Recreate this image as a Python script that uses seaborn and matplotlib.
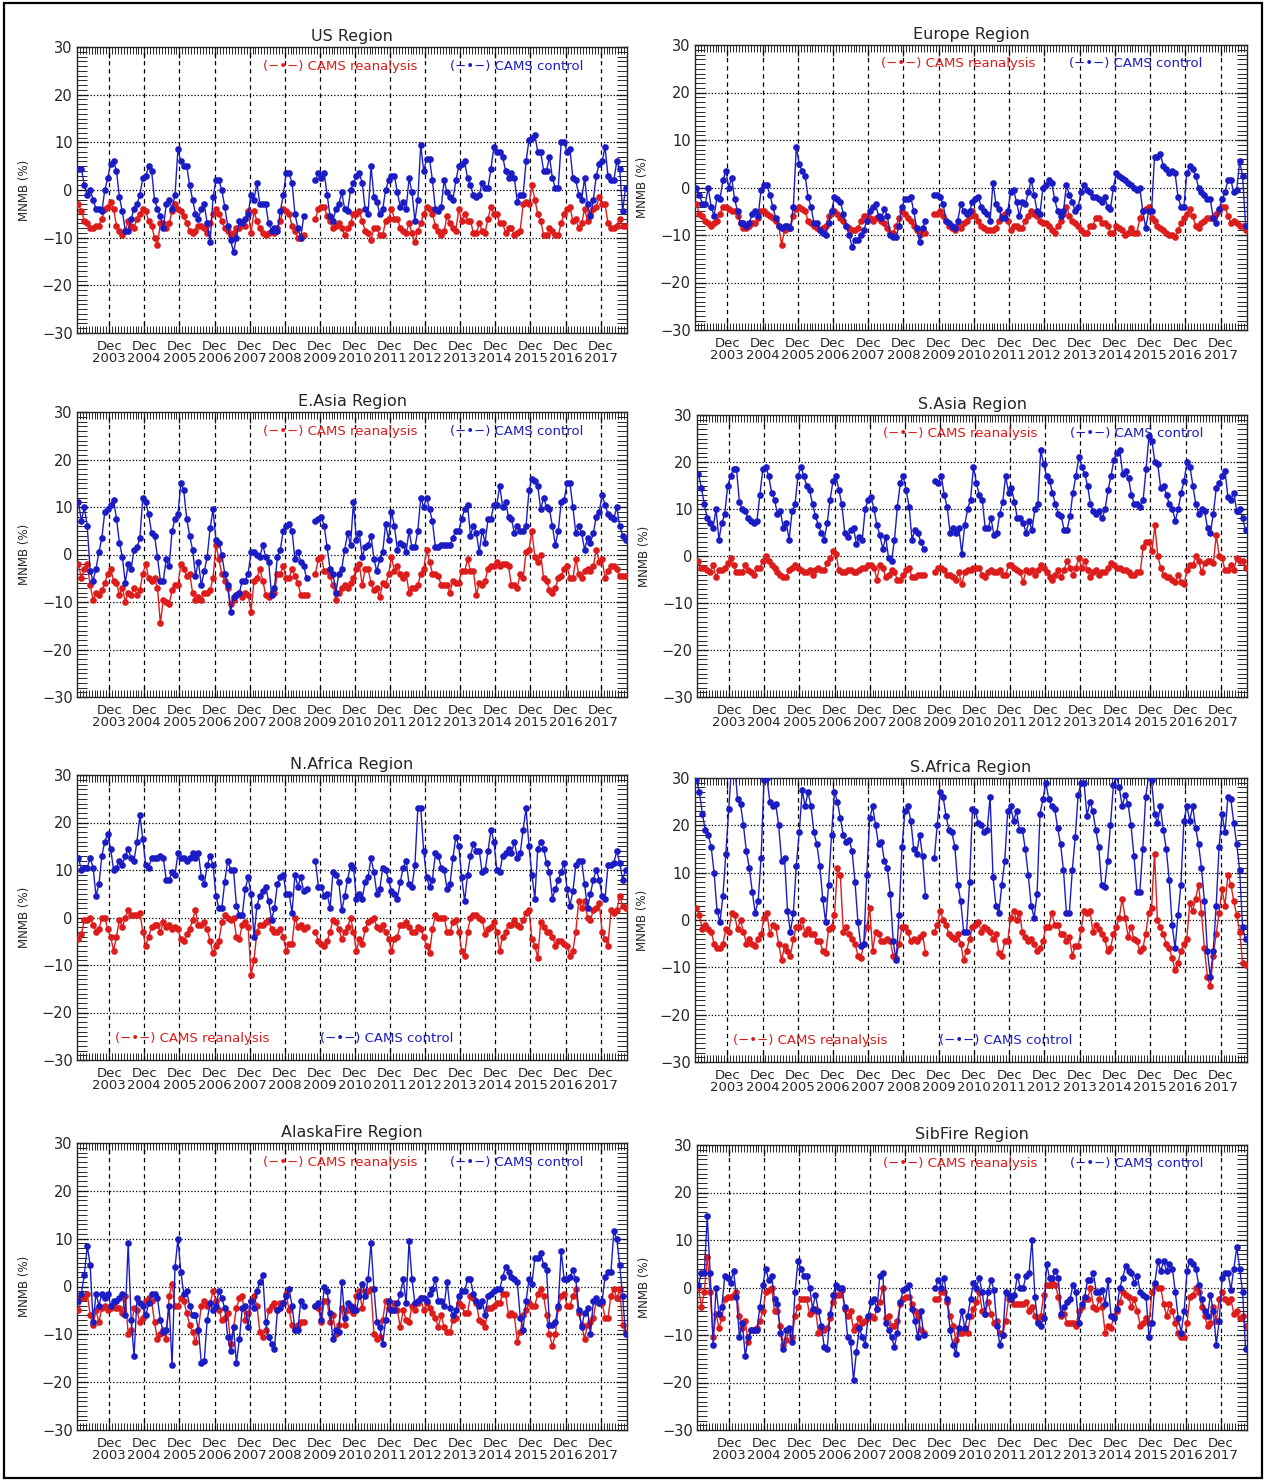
import numpy as np
import pandas as pd
import matplotlib
matplotlib.use("Agg")
import matplotlib.pyplot as plt
from matplotlib.patches import Rectangle
from matplotlib.ticker import MultipleLocator
import seaborn as sns

nan = np.nan

# Monthly MNMB (%) from Jan 2003 to Aug 2018, one row per year; nan = no data
us_rean = [
    -3, -4.5, -6.5, -7, -8, -8, -7.5, -7.5, -6, -4, -3.5, -2.5,
    -4, -7.5, -8.5, -9.5, -8.5, -6.5, -7.5, -8, -6, -5, -4, -4.5,
    -6.5, -7.5, -10, -11.5, -7, -7, -8, -7, -4.5, -3, -4, -4.5,
    -5.5, -7, -8.5, -9, -8.5, -7.5, -7.5, -8, -9, -7, -5, -4,
    -5, -6.5, -8, -8.5, -9.5, -9, -8, -8, -7, -7.5, -4.5, -9,
    -4.5, -6.5, -8, -9, -9.5, -9, -8.5, -9, -8, -6.5, -4, -4.5,
    -5, -7.5, -8.5, -10, -10, -9.5, nan, nan, nan, -6, -4, -3.5,
    -3.5, -5.5, -6.5, -8, -7.5, -7, -8, -9.5, -8, -7, -5, -5,
    -4.5, -6.5, -8.5, -9, -10.5, -8, -8, -9.5, -9.5, -6.5, -6, -4,
    -6, -6, -8, -8.5, -9, -7, -9, -11, -8.5, -7, -5, -3.5,
    -4, -5, -7.5, -8.5, -9.5, -8.5, -5.5, -7, -8, -8.5, -4, -6.5,
    -5, -6.5, -6.5, -9, -9, -7, -8.5, -9, -6, -3.5, -5, -5,
    -7, -7, -9, -8, -8, -9.5, -9, -8.5, -3, -2.5, -3, 1,
    -2, -5, -6.5, -9.5, -9.5, -8, -8.5, -9.5, -9.5, -7, -5, -4,
    -3.5, -6.5, -6, -8, -7, -4, -6.5, -5, -4, -3.5, -1.5, -3,
    -3, -7, -8, -8, -7.5, -6, -7.5, -7.5,
]
us_ctrl = [
    4.5, 4.5, 1, -1, 0, -2, -4, -4, -4.5, 0, 2.5, 5.5,
    6, 4, -1.5, -4.5, -8.5, -8.5, -6, -4, -3, -1, 2.5, 3,
    5, 4, -2, -4, -5.5, -8, -3, -2, -4, -1, 8.5, 6,
    5, 5, 1, -2, -5, -6, -4, -3, -7, -11, -1.5, 2,
    2, 0, -3.5, -7.5, -10.5, -13, -10, -6.5, -7, -6, -5, -1,
    -2, 1.5, -3, -3, -3, -7, -8.5, -8, -8.5, -4.5, -1, 3.5,
    3.5, 1.5, -5, -8, -10, -5.5, nan, nan, nan, 2, 3.5, 2.5,
    3.5, -1, -5.5, -6.5, -4, -3, -0.5, -4, -4.5, 0, 1.5, 3,
    3.5, 1.5, -4, -5, 5, -1.5, -2.5, -5, -4, 0, 2, 3,
    3, -0.5, -3.5, -2.5, -4, 2.5, -0.5, -6.5, -2, 9.5, 4, 6.5,
    6.5, 2, -4, -4.5, -3.5, 2, -0.5, -1.5, -2, 2, 5, 5.5,
    6, 2.5, 1, -1, -1.5, -1, 1.5, 0.5, 0.5, 4.5, 9, 8,
    8, 7, 4, 2.5, 3.5, 2.5, -2.5, -1, -1, 6, 10.5, 11,
    11.5, 8, 8, 4, 4, 7, 2.5, 0.5, 0.5, 10, 10, 8,
    8.5, 2.5, 2, -1, -2, 2.5, -3, -5.5, -2, 3, 5.5, 6,
    9, 3, 2, 2, 6, 4.5, -4.5, 0.5,
]
eu_rean = [
    -3.5, -5.5, -6, -7, -7.5, -8, -7.5, -7, -5.5, -4, -4, -4.5,
    -5, -5, -6, -7.5, -8.5, -8.5, -8, -7.5, -7.5, -6.5, -5, -5,
    -5.5, -6, -6.5, -7, -8, -12, -9, -8.5, -8.5, -6, -4.5, -4,
    -4.5, -5, -7, -7.5, -8, -8.5, -9, -8.5, -8, -6, -5, -5,
    -5.5, -6.5, -7, -8, -8.5, -9, -9, -8.5, -7, -6, -6, -6.5,
    -7, -6.5, -6.5, -7, -7.5, -8.5, -9.5, -9.5, -8, -6.5, -5, -5.5,
    -6.5, -7, -8, -9, -10, -9, -9.5, nan, nan, -5.5, -5.5, -5,
    -6, -7, -8, -8.5, -9, -8, -8.5, -7.5, -7, -6, -5, -6,
    -7, -8, -8.5, -9, -9, -9, -8.5, -7, -6, -5.5, -7, -9,
    -8, -8, -8.5, -8.5, -7, -6, -5, -5.5, -6, -7, -7.5, -7.5,
    -8, -9, -9.5, -8, -7, -5.5, -4, -6, -7, -7.5, -8, -9,
    -9.5, -9.5, -8, -8, -6.5, -6.5, -7.5, -7.5, -8, -9.5, -9.5, -8,
    -8.5, -9, -10, -9.5, -8.5, -9.5, -9.5, -6.5, -5, -4.5, -4, -6.5,
    -7, -8, -8.5, -9, -9.5, -10, -10, -10.5, -9, -7.5, -6.5, -5.5,
    -4.5, -6, -8, -8.5, -7.5, -7, -6.5, -6.5, -6.5, -5.5, -5, -4,
    -4, -6, -7.5, -7, -7.5, -8, -8, -9,
]
eu_ctrl = [
    0, -1.5, -3.5, -3.5, 0, -4, -6, -2, -2.5, 1.5, 3.5, 0,
    2, -2.5, -5, -7.5, -7.5, -8, -7.5, -5.5, -5, -6, -0.5, 0.5,
    0.5, -1.5, -4, -6.5, -8, -8.5, -8, -8, -8.5, -4, 8.5, 5,
    3.5, 2.5, -2, -4, -7.5, -7.5, -9, -9.5, -10, -7.5, -5, -2,
    -2.5, -3, -5.5, -8, -10, -12.5, -11, -11, -10, -9, -7, -5,
    -4, -3.5, -6, -6.5, -4.5, -6, -10, -10.5, -10.5, -8, -4, -2.5,
    -2.5, -2, -5, -8.5, -11.5, -8.5, -7, nan, nan, -1.5, -1.5, -2,
    -3.5, -7, -7.5, -8, -8.5, -7, -3.5, -5, -5.5, -5, -3, -2.5,
    -2, -4, -5, -5.5, -7, 1, -3.5, -4.5, -6.5, -6.5, -5, -1,
    -0.5, -3, -6, -3, -3.5, -1, 1.5, -1.5, -5, -5.5, 0, 0.5,
    1.5, 1, -2.5, -5, -6, -5, 0.5, -1.5, -3, -5, -4, -1,
    0.5, -0.5, -1, -2, -2, -2.5, -3, -2, -4, -4.5, 0, 3,
    2.5, 2, 1.5, 1, 0.5, 0, -0.5, 0, -5, -8.5, -5, -5,
    6.5, 6.5, 7, 4.5, 4, 3, 3.5, 3, -2, -4, -4, 3,
    4.5, 4, 2.5, 0, -1, -1.5, -2.5, -2.5, -6.5, -7.5, -4.5, -2.5,
    -1, 1.5, 1.5, -1, -0.5, 5.5, 2.5, -8,
]
ea_rean = [
    -2, -5, -3, -2, -6.5, -9.5, -8, -8.5, -7.5, -6, -4, -3,
    -5.5, -6, -8.5, -7, -10, -8, -8.5, -7, -8.5, -7.5, -4, -2,
    -5, -5.5, -5, -7, -14.5, -9.5, -10, -10.5, -7.5, -6.5, -6.5, -2,
    -3, -4.5, -4, -8, -9.5, -9, -9.5, -8, -8, -7.5, -5, 2,
    -1, -4, -5.5, -7, -10.5, -9.5, -8.5, -8, -9, -8, -8.5, -12,
    -5.5, -5, -3, -5.5, -8.5, -9, -8, -8, -4, -4, -2.5, -5,
    -5, -3, -4.5, -6, -8.5, -8.5, -8.5, nan, nan, -4, -1, -0.5,
    -3.5, -3.5, -4.5, -6.5, -9.5, -8, -7, -6.5, -7, -6, -5, -3,
    -2, -6.5, -3, -3, -6, -7.5, -7, -9, -6, -6.5, -4, -0.5,
    -3.5, -2.5, -4, -5, -4, -8, -7, -7, -6.5, -4, -3, 1,
    -1.5, -4, -4, -4.5, -6.5, -6.5, -6.5, -8, -5.5, -6, -6, -3.5,
    -3.5, -1, -3.5, -3.5, -8.5, -6, -6.5, -5.5, -3, -2.5, -2.5, -1.5,
    -2.5, -2, -2, -2.5, -6.5, -6.5, -7, -4, -5, 0.5, 1, 5,
    -0.5, -1.5, 0, -5, -5.5, -7.5, -8, -7, -5, -4.5, -3, -2.5,
    -5, -5, -1, -4, -5, -3.5, -3, -3.5, -2.5, 1, -1.5, -1,
    -5, -3.5, -2.5, -2.5, -3, -4.5, -4.5, -4.5,
]
ea_ctrl = [
    11, 7, 10, 6, -3.5, -5.5, -3, 0.5, 3.5, 9, 9.5, 10.5,
    11.5, 7.5, 2.5, -0.5, -6, -2, -3, 1, 1.5, 3.5, 12, 11,
    8.5, 4.5, 4, -0.5, -5.5, -5.5, -1, -2.5, 5, 7.5, 8.5, 15,
    13.5, 7.5, 4, 1, -4.5, -1.5, -6.5, -3.5, -0.5, 5.5, 9.5, 3,
    2.5, 0, -4, -6.5, -12, -9, -8.5, -8, -5.5, -5.5, -4, 0.5,
    0.5, 0, -0.5, 2, -0.5, -1.5, -8.5, -7, -0.5, 1, 5, 6,
    6.5, 5, -1, 0.5, -1.5, -2.5, -5, nan, nan, 7, 7.5, 8,
    6, 1.5, -3, -4, -8, -4, -3, 1, 4.5, 2, 11, 3,
    4.5, -0.5, 1.5, 2, 4, -1, -3.5, -1, 0.5, 6.5, 3, 9,
    6, 1, 2.5, 2, 0.5, 5, 1.5, 1.5, 5, 12, 10, 12,
    9.5, 7, 1.5, 1.5, 2, 2, 2, 2, 3.5, 5, 5, 7.5,
    9.5, 10.5, 4, 6, 4.5, 0.5, 5, 2.5, 7.5, 7.5, 10.5, 10.5,
    14.5, 10, 11, 8, 7.5, 4.5, 6, 5, 5, 6, 13.5, 16,
    15.5, 14.5, 9.5, 12, 10, 9.5, 6, 2, 5, 11, 11.5, 15,
    15, 10, 4.5, 6, 4.5, 1, 3.5, 2.5, 4.5, 8, 9, 12.5,
    10.5, 8.5, 8, 7.5, 10, 6, 4, 3,
]
sa_rean = [
    -1, -2.5, -2.5, -3, -3.5, -2, -4.5, -3, -3, -2.5, -1.5, -0.5,
    -2, -3.5, -3.5, -3.5, -2, -3, -3.5, -4, -2.5, -2.5, -1, 0,
    -1, -2, -2.5, -3.5, -4, -4.5, -4.5, -3, -2.5, -2, -2.5, -3,
    -3.5, -3.5, -3, -4, -3, -2.5, -3, -3, -1.5, -0.5, 1, 0.5,
    -3, -3.5, -3.5, -3, -3, -3.5, -3.5, -3, -2.5, -2.5, -2, -2,
    -2.5, -5, -2, -2.5, -4.5, -4, -3, -3.5, -5, -5, -4, -3,
    -2.5, -4.5, -4.5, -4, -4, -4, nan, nan, nan, -3.5, -2.5, -2.5,
    -3, -4, -4, -4.5, -5, -3.5, -6, -3.5, -3, -3, -2.5, -2.5,
    -2.5, -4, -4.5, -3.5, -3, -3.5, -3.5, -3, -4, -4, -2, -2,
    -2.5, -3, -3.5, -5.5, -3, -3.5, -3, -4, -3, -2, -2.5, -3.5,
    -4.5, -5, -4, -3, -4.5, -3, -1, -2.5, -4, -2.5, -0.5, -2.5,
    -1, -3, -4.5, -3.5, -3, -4, -3.5, -3.5, -2.5, -1.5, -2, -2.5,
    -2.5, -3, -3, -3.5, -4, -4, -3.5, -3.5, 2, 3, 3, 1,
    6.5, 0, -2.5, -4, -4.5, -4.5, -5, -5.5, -4, -5.5, -6, -3,
    -2, -2, 0, -1, -3.5, -1.5, -1, -1, -1.5, 4.5, 0, -0.5,
    -3, -3, -2, -3, -0.5, -1, -1, -2.5,
]
sa_ctrl = [
    17.5, 14.5, 11, 8, 7, 6, 10, 3.5, 7, 9, 15, 17,
    18.5, 18.5, 11.5, 10, 9.5, 8, 7.5, 7, 7.5, 13, 18.5, 19,
    17, 13.5, 12, 9, 9.5, 6, 7, 3.5, 9.5, 11, 17, 19,
    17, 15, 14, 11, 8.5, 6.5, 5, 3.5, 7, 12, 16, 17,
    14, 11, 5, 4, 5.5, 6, 2.5, 4, 3.5, 10, 12, 12.5,
    10, 6.5, 4.5, 1.5, 4, -0.5, -1, 3.5, 10.5, 15.5, 17, 14,
    10.5, 3.5, 5.5, 5, 3, 1.5, nan, nan, nan, 16, 15.5, 17,
    13, 10.5, 5, 6, 5, 6, 0.5, 6.5, 10, 12, 19, 15.5,
    13, 12, 6, 6, 8, 4.5, 5, 9, 11.5, 17, 13.5, 14.5,
    11.5, 8, 8, 7, 5, 7.5, 5.5, 10, 11, 22.5, 19.5, 17,
    16, 13.5, 11, 9, 8.5, 5.5, 5.5, 8.5, 13.5, 17, 21, 19,
    17.5, 15, 11, 9.5, 9, 9.5, 8, 10, 14, 17, 20.5, 22,
    22.5, 17.5, 18, 16.5, 13, 11, 11, 10.5, 12, 18.5, 25.5, 24.5,
    20, 19.5, 14.5, 15, 13, 11, 10, 7.5, 10, 13.5, 16, 20,
    19, 15, 11, 9, 10, 9.5, 6, 5, 9, 14.5, 15.5, 17,
    18, 12.5, 12, 13.5, 9.5, 10, 8, 5.5,
]
na_rean = [
    -4.5, -3.5, -0.5, -0.5, 0, -1.5, -3, -2.5, 0, 0, -2.5, -4,
    -7, -4, -0.5, -2, 0, 1.5, 0.5, 0.5, 0.5, 1, -3, -6,
    -4, -2, -1.5, -1.5, -3, -1, -2, -1.5, -2.5, -2, -2.5, -4.5,
    -5, -3.5, -2.5, -0.5, 1.5, -1.5, -1.5, -1, -2.5, -5, -7.5, -6,
    -5, -1, 0.5, 0, -0.5, 0, -4, -4.5, -1.5, -1, -2, -12,
    -9, -3, -1.5, -1.5, -1, -0.5, -2.5, -3, -3, -2.5, -4, -7,
    -5.5, -5.5, 0, -2, -1.5, -2.5, -2, nan, nan, -3, -5, -5.5,
    -6, -5, -3, -0.5, -1, -2.5, -4.5, -3, -2, 0, -3, -7,
    -4.5, -5.5, -2.5, -1, -0.5, 0, -2, -2.5, -1.5, -3, -4.5, -7,
    -4.5, -4, -1.5, -1.5, -1, -2, -3, -3, -2, -2.5, -4, -6,
    -7.5, -2.5, 0.5, 0, 0, 0, -3, -3, -1, -0.5, -3, -7,
    -8, -3, 0, 0.5, 0.5, 0, -0.5, -3.5, -2.5, -2, -1, -3,
    -7, -4, -3, -1.5, -1.5, -0.5, -1.5, -2, -0.5, 1, 1.5, -4.5,
    -6, -8.5, -1, -2, -3, -3, -4, -6, -5, -5, -5.5, -6,
    -8, -7, -3, 3.5, 2, 3.5, 0, -0.5, 1.5, 2, 3, -3,
    -4.5, -6, 1.5, 1, 1.5, 4.5, 2.5, 2,
]
na_ctrl = [
    12.5, 10, 10.5, 10.5, 12.5, 10.5, 4.5, 7, 13, 16, 17.5, 14.5,
    10, 10.5, 12, 11, 13, 14.5, 12.5, 12, 16, 21.5, 16.5, 11,
    10.5, 12.5, 12.5, 12.5, 13, 12.5, 8, 8, 9.5, 9, 13.5, 12.5,
    12.5, 12, 12.5, 13.5, 12.5, 13.5, 8.5, 7, 11, 13, 11, 4.5,
    2, 2, 7.5, 12, 10, 10, 2.5, 0.5, 0.5, 6, 8.5, 5,
    -4, 2.5, 4.5, 5.5, 6.5, 3.5, -0.5, 2, 7, 8.5, 9, 5,
    5, 1, 9, 6.5, 8.5, 5.5, 6, nan, nan, 12, 6.5, 6.5,
    4.5, 5, 2, 9.5, 9, 7.5, 1.5, 4.5, 8, 11, 10.5, 4,
    5, 4, 7.5, 8.5, 12.5, 9.5, 5, 6, 10.5, 10, 8, 5.5,
    5, 4, 7.5, 10.5, 12, 7, 6.5, 11, 23, 23, 14, 8.5,
    6.5, 8, 13.5, 13, 10.5, 10, 6, 7, 12.5, 17, 15, 8.5,
    3.5, 9, 13, 15.5, 14, 14, 9.5, 10, 14, 18.5, 16, 10,
    9.5, 13, 13.5, 14.5, 13.5, 16, 12.5, 13.5, 18.5, 23, 15, 9,
    4, 14.5, 16, 14.5, 11.5, 9.5, 4, 6, 8, 9.5, 11.5, 6,
    2.5, 5.5, 11, 12, 12, 7, 2, 5, 8, 10, 8, 4.5,
    4, 11, 11, 11.5, 14, 11.5, 8, 10,
]
sf_rean = [
    2.5, 1, -2, -1, -2, -2.5, -5, -6, -6, -5, -2, -2.5,
    1.5, 1, -2, 0, -2.5, -5, -4, -5, -5.5, -4, -3, 0.5,
    1.5, -3, -1, -1.5, -5, -8.5, -5.5, -6.5, -7.5, -4, -1.5, -1.5,
    0, -3, -2, -3, -3, -4.5, -4.5, -6.5, -7, -2, -1.5, 1,
    11, 9.5, -2.5, -1.5, -3, -4, -5, -7.5, -8, -5, -1.5, 2.5,
    -6.5, -2.5, -3, -4.5, -4.5, -4, -4.5, -7.5, -8, -5, -1.5, -1.5,
    -2.5, -4.5, -4, -4.5, -3.5, -3, -7, nan, nan, -2.5, -1, 2,
    0, -1, -3, -3.5, -4, -3, -5, -8.5, -6.5, -4, -1.5, -1,
    -0.5, -2.5, -1.5, -2, -2.5, -4, -3, -7, -7.5, -4.5, -4.5, 0.5,
    2, 0, 1.5, -2.5, -3.5, -4.5, -4, -5, -6.5, -6, -4.5, -1.5,
    -1.5, 1.5, -1, -1, -3, -3, -4.5, -3.5, -7.5, -5.5, -5.5, -2,
    2, 1.5, 2, -2.5, -1, -2, -3, -4, -6.5, -6, -3, -1.5,
    0.5, 4.5, 0.5, -3.5, -1.5, -4, -4.5, -6.5, -6, -3, 1.5, 2.5,
    14, 0, -1.5, -3, -5, -6, -8, -10.5, -9, -6.5, -5, -4,
    3.5, 2, 4.5, 7.5, 1.5, -6, -12, -14, -7.5, -3, 1.5, 6.5,
    3, 9.5, 7.5, 4, 1, -2.5, -9, -9.5,
]
sf_ctrl = [
    29.5, 27, 22.5, 19, 18, 15.5, 10, 2, -0.5, 5, 14, 23.5,
    33, 33, 25.5, 24.5, 20, 14.5, 11, 6, 1.5, 4, 13, 29.5,
    30, 25, 24, 24.5, 20, 12.5, 13, 2, -2.5, 1.5, 11.5, 18.5,
    27.5, 24, 27, 24, 18.5, 16, 11.5, 4.5, -0.5, 7.5, 18, 27,
    25, 21.5, 18, 16.5, 17, 14.5, 8, -0.5, -5.5, -5, 9.5, 21.5,
    24, 20, 16, 16.5, 12.5, 11, 5.5, -4.5, -8.5, 1, 15.5, 23,
    24, 21, 15, 14, 18, 13.5, 5, nan, nan, 13, 20, 27,
    26, 22, 19, 18.5, 15.5, 7.5, 4, -2.5, -2.5, 8, 23.5, 23,
    20.5, 20, 18.5, 19, 26, 9, 3, 1.5, 7.5, 12.5, 23, 24,
    21, 23, 19, 19, 15, 9.5, 3, 0.5, 5.5, 22.5, 25.5, 29,
    25.5, 24, 23.5, 19.5, 16, 10.5, 1.5, 1.5, 10.5, 17.5, 26.5, 29,
    29, 22, 25, 23, 19, 15.5, 7.5, 7, 12.5, 20, 28.5, 30.5,
    28, 24, 26.5, 24.5, 20, 13.5, 6, 6, 15, 26, 30.5, 29.5,
    22.5, 20.5, 24, 19, 15, 8.5, -1, -6, 1, 7.5, 21, 24,
    21, 24, 19.5, 16, 11, 4, -6.5, -12, -6.5, 3, 15.5, 22.5,
    18.5, 26, 25.5, 20.5, 16, 10.5, -1.5, -4,
]
ak_rean = [
    -5, -2.5, -2.5, -1.5, -6, -8, -5, -7.5, -4.5, -4, -5, -4.5,
    -4, -4.5, -4.5, -5.5, -2, -10, -9, -4.5, -5, -7.5, -6.5, -3,
    -2.5, -3, -7.5, -11, -10, -9, -11, -2, 0.5, -4, -4, -2.5,
    -3, -5.5, -8, -9.5, -11.5, -9, -4, -3, -4, -3.5, -1, -3,
    -5, -7, -6.5, -5.5, -12, -8.5, -4.5, -2.5, -2, -7, -5.5, -3,
    -2, -4, -9.5, -10.5, -9, -5, -4, -3.5, -5, -3.5, -3.5, -1.5,
    -5, -8, -9, -8, -7.5, -7.5, nan, nan, nan, -4, -4.5, -7.5,
    -3, -3, -7.5, -6, -10, -8, -4.5, -8, -5, -5, -5.5, -2,
    -1, -4.5, -1, -1, -0.5, -10, -11, -10.5, -7, -3, -4.5, -5,
    -3.5, -5, -8.5, -5, -7, -7.5, -4, -5, -3.5, -2.5, -5, -3.5,
    -4.5, -5.5, -6.5, -8.5, -6, -8.5, -9.5, -9.5, -7, -6.5, -3.5, -4,
    -5.5, -5.5, -2, -2.5, -3.5, -7, -7.5, -8.5, -4.5, -4.5, -4, -3.5,
    -3.5, -1.5, -1.5, -6, -5.5, -6, -11.5, -9.5, -6, -5, -3.5, -4,
    -4, -1.5, -0.5, -2, -6, -10, -12.5, -10, -4.5, -2, -1.5, -4,
    -4, -2, -0.5, -5.5, -8, -11, -8, -7.5, -6.5, -3, -3.5, -3.5,
    -6.5, -6.5, -2, -0.5, -2.5, -0.5, -8, -9.5,
]
ak_ctrl = [
    -3, -1.5, 2.5, 8.5, 4.5, -7.5, -1.5, -4, -1.5, -2.5, -1.5, -4,
    -3, -3, -2.5, -1.5, -6, 9, -7, -14.5, -2.5, -3.5, -4, -6,
    -3.5, -1.5, -1.5, -2.5, -7, -9.5, -9, -4, -16.5, 4, 10, 3,
    -1.5, -1, -4, -6, -6, -9, -16, -15.5, -7, -3.5, -5, -4,
    -1, -2.5, -4.5, -10.5, -13.5, -8.5, -16, -11, -4.5, -4, -8.5, -3,
    -4.5, -1, 1, 2.5, -7.5, -10.5, -12, -13, -5, -4.5, -3.5, -2,
    -0.5, -4, -9, -9, -3, -4, nan, nan, nan, -4, -3.5, -7,
    0, -1, -5.5, -11, -9, -9.5, 1, -6.5, -3.5, -4, -5, -5,
    -2, 0.5, -2, 1.5, 9, -0.5, -7.5, -8.5, -12, -7, -3, -5,
    -5, -3.5, -1.5, 1.5, -3.5, 9.5, 1.5, -3.5, -3, -2.5, -2.5, -3,
    -1.5, -0.5, 1.5, -3, -3, -4, 1, -4.5, -6, -5, -2, -1,
    -1, 1.5, 1.5, -1.5, -3, -4, -3, -6, -2, -1.5, -1, -0.5,
    -0.5, 2, 4, 3, 2, 1.5, 1, -6.5, -9, -3, 1.5, 0.5,
    6, 6, 7, 4.5, 3.5, -8, -8, -7.5, -4, 7.5, 1.5, 1.5,
    2, 3.5, 1.5, -5, -8.5, -5.5, -4.5, -10, -3, -2.5, -3.5, -3,
    2, 3, 3, 11.5, 10, 4.5, -2, -10,
]
sb_rean = [
    0, -4, -1, 6.5, -1, -10.5, -5.5, -8.5, -6.5, -2.5, -2, -2,
    -1.5, -1, -6, -8.5, -7, -11.5, -9, -9, -8.5, -7, -5, -1,
    -0.5, 0, -5, -5, -8, -12, -11, -9, -10.5, -6, -4, -2.5,
    -2.5, -2.5, -5.5, -5, -4.5, -9.5, -8.5, -9, -8.5, -6.5, -3, -1.5,
    -1.5, -0.5, -4.5, -6, -5, -9, -8, -6.5, -7.5, -7, -6.5, -6,
    -6.5, -4.5, -3, 0, -6.5, -6, -8, -8, -7, -3.5, -2.5, -2,
    -2, -3.5, -5, -6, -9, -9.5, nan, nan, nan, -2.5, -2.5, -1,
    -1, -3, -6, -8, -11, -9.5, -9.5, -9, -9.5, -6, -4.5, -3,
    -1, -5, -5.5, -3, -5.5, -7.5, -7, -9.5, -10, -7, -2.5, -2.5,
    -3.5, -3.5, -3.5, -3.5, -3, -5, -4, -6, -7, -6, -1.5, 0.5,
    0.5, 1, 0.5, -2, -6, -5.5, -7.5, -7.5, -7.5, -8, -5, -4,
    -2.5, -2.5, 0, -4, -4.5, -2.5, -4, -9.5, -8, -8.5, -6, -5,
    -3, -1, -1.5, -2, -4, -2.5, -5, -8, -7.5, -6.5, -7.5, -1,
    0.5, 0, 0, -3.5, -6, -3.5, -5, -7.5, -9.5, -10.5, -10.5, -7.5,
    -2, -1.5, 0, -1, -4, -6, -8, -7.5, -4, -7, -2.5, -1,
    -2.5, -3, -2.5, -5.5, -5, -6.5, -6, -8,
]
sb_ctrl = [
    0.5, 3, 3, 15, 3, -12, 0, -5.5, -4, 2.5, 2, 1,
    3.5, -2, -10.5, -7.5, -14.5, -10.5, -9, -9, -9, -4, 0.5, 4,
    1.5, 2.5, -2.5, -3.5, -9.5, -13, -9, -8.5, -11.5, -1, 5.5, 4,
    2.5, 2.5, 0, -4.5, -1.5, -5, -8, -12.5, -13, -5.5, -1.5, 0.5,
    0, 0, -4, -10.5, -11.5, -19.5, -13.5, -8.5, -10.5, -12, -6, -3,
    -2.5, -4.5, 2.5, 3, -7.5, -9, -10.5, -12.5, -9.5, -3, -0.5, 0,
    0.5, -4.5, -7, -10.5, -5, -10, nan, nan, nan, 0, 1.5, 0,
    2, -2.5, -9, -12, -14, -8.5, -5, -8.5, -6, -2.5, 1, 0,
    2, -1, -5.5, -1, 1.5, -0.5, -8, -12, -10, -1, -1.5, -2.5,
    -1.5, 2.5, 0, 0, 2.5, 3, 10, -2, -7.5, -8, -6.5, 5,
    2, 2, 3.5, 2, -5.5, -4, -3, -2.5, 0.5, -1, -7.5, -3.5,
    -2, 1.5, 1.5, 3, -1, -1, -0.5, -3.5, 1.5, -6, -6.5, -4.5,
    0, 2, 4.5, 3.5, 3, 1, 2.5, -1, -1.5, -2, -10.5, -7.5,
    1, 5.5, 3.5, 5.5, 3.5, 5, 4, -1, -6.5, -9.5, -5, 3.5,
    5.5, 5, 4, 0.5, -2.5, -5, -6, -1.5, -5, -12, -7, 2,
    3, 3, -0.5, 4, 8.5, 4, -1, -13,
]

titles = ["US Region", "Europe Region", "E.Asia Region", "S.Asia Region",
          "N.Africa Region", "S.Africa Region", "AlaskaFire Region", "SibFire Region"]
reanalysis = [us_rean, eu_rean, ea_rean, sa_rean, na_rean, sf_rean, ak_rean, sb_rean]
control = [us_ctrl, eu_ctrl, ea_ctrl, sa_ctrl, na_ctrl, sf_ctrl, ak_ctrl, sb_ctrl]
label_years = list(range(2003, 2018))
series_names = ["CAMS reanalysis", "CAMS control"]

RED = "#dd1c1c"
BLUE = "#1c1cc4"

sns.set_style("ticks")
plt.rcParams["font.family"] = ["DejaVu Sans"]
plt.rcParams["axes.linewidth"] = 1.0

W, H = 1266, 1481
fig = plt.figure(figsize=(W / 100, H / 100), dpi=100)

# axes boxes in pixels: left, top, right, bottom
boxes = [
    (77, 47, 627, 333), (695, 45, 1247, 330),
    (77, 412, 627, 697), (697, 415, 1247, 697),
    (77, 775, 627, 1060), (695, 778, 1247, 1062),
    (77, 1143, 627, 1430), (697, 1145, 1247, 1430),
]
# legend text anchors (month, value) for the two series
legend_top = ((63.5, 26), (127.5, 26))
legend_bottom = ((13, -25.5), (83, -25.5))

dec_x = [11 + 12 * k for k in range(len(label_years))]

for idx, (title, rean, ctrl, box) in enumerate(zip(titles, reanalysis, control, boxes)):
    l, t, r, b = box
    ax = fig.add_axes([l / W, 1 - b / H, (r - l) / W, (b - t) / H])

    frames = []
    for name, vals in zip(series_names, (rean, ctrl)):
        v = np.asarray(vals, dtype=float)
        df = pd.DataFrame({
            "month": np.arange(v.size) + 0.5,
            "mnmb": v,
            "segment": np.cumsum(np.isnan(v)),
            "series": name,
        })
        frames.append(df.dropna())
    data = pd.concat(frames, ignore_index=True)

    for yv in (-20, -10, 0, 10, 20):
        ax.axhline(yv, color="black", lw=0.9, ls=(0, (1, 1.6)), zorder=1)
    for xv in dec_x:
        ax.axvline(xv, color="black", lw=0.9, ls=(0, (3.5, 3)), zorder=1)

    sns.lineplot(data=data, x="month", y="mnmb", hue="series",
                 hue_order=series_names, palette=[RED, BLUE],
                 units="segment", estimator=None, sort=False,
                 marker="o", markersize=4.8, markeredgewidth=0,
                 linewidth=1.0, legend=False, ax=ax, zorder=3)

    ax.set_xlim(0, 188)
    ax.set_ylim(-30, 30)
    ax.set_xticks(dec_x)
    ax.set_xticklabels([f"Dec\n{y}" for y in label_years], fontsize=9.5, linespacing=0.9)
    ax.set_yticks(range(-30, 31, 10))
    ax.tick_params(axis="y", labelsize=10.5, pad=3)
    ax.tick_params(axis="x", pad=5)
    ax.xaxis.set_minor_locator(MultipleLocator(1))
    ax.yaxis.set_minor_locator(MultipleLocator(1))
    ax.tick_params(which="both", direction="in", top=True, right=True)
    ax.tick_params(which="major", length=8, width=0.9)
    ax.tick_params(axis="x", which="minor", length=5, width=0.7)
    ax.tick_params(axis="y", which="minor", length=7, width=0.7)

    ax.set_xlabel("")
    ax.set_ylabel("MNMB (%)", fontsize=8.5)
    ax.yaxis.set_label_coords(-0.083, 0.5)
    ax.set_title(title, fontsize=11.5, pad=4)

    anchors = legend_bottom if title in ("N.Africa Region", "S.Africa Region") else legend_top
    for (lx, ly), name, col in zip(anchors, series_names, (RED, BLUE)):
        ax.text(lx, ly, "(−•−) " + name, color=col, fontsize=9.5, va="center", ha="left", zorder=4)

fig.patches.append(Rectangle((4 / W, 3 / H), 1 - 8 / W, 1 - 6 / H, transform=fig.transFigure,
                             fill=False, ec="black", lw=1.6))

fig.savefig("out.png", dpi=100)
